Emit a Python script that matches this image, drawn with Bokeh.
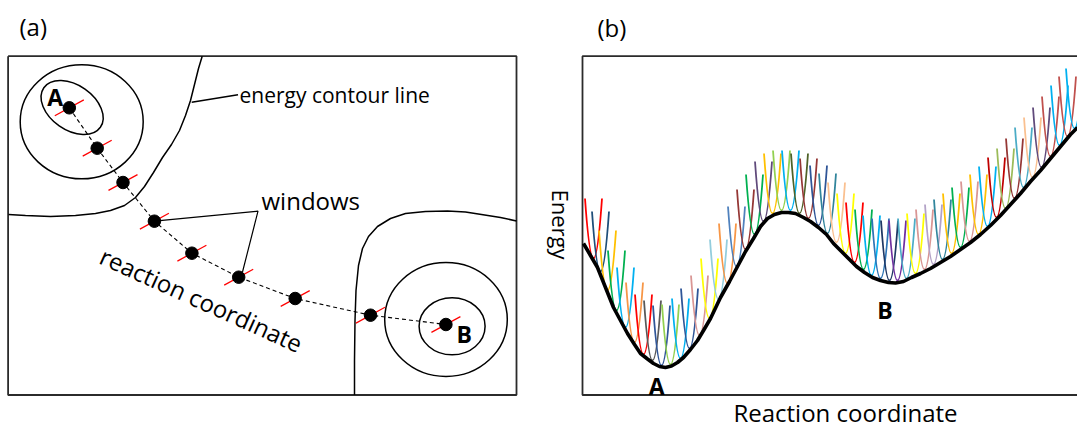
import numpy as np
from bokeh.plotting import figure
from bokeh.models import Range1d, Label
from bokeh.embed import file_html
from bokeh.resources import INLINE

# ---------------- panel (a): free-energy surface (page pixel units) ----------------
window_x = [68.8, 96.7, 122.5, 153.9, 191.4, 238.2, 294.7, 370.0, 445.4]
window_y = [107.3, 147.7, 182.0, 220.7, 252.7, 276.7, 298.0, 314.7, 324.0]

contour_left_x = [201.7, 198, 194, 190, 185, 179, 171, 162, 153, 144, 135, 124, 110, 95, 75, 50, 25, 8]
contour_left_y = [55.7, 68, 84, 100, 115, 130, 144, 157, 172, 186, 197, 205, 210, 213, 215, 216, 215, 214]

contour_right_x = [354, 354, 354.5, 355.5, 358, 362, 368, 377, 390, 405, 425, 447, 465, 481, 500, 516]
contour_right_y = [394.5, 360, 320, 290, 265, 248, 236, 226, 218, 213, 211, 210.5, 211.5, 214, 217, 220.5]

ellipse_cx = [81.2, 71.6, 445.5, 451.6]
ellipse_cy = [121.3, 107.0, 319.0, 325.8]
ellipse_w = [123, 69, 122.6, 66]
ellipse_h = [114, 45, 114, 57]
ellipse_angle = [0.0, -35.0, 0.0, 0.0]

# ---------------- panel (b): energy profile + umbrella windows ----------------
energy_x = [583, 590, 597, 605, 613, 620, 627, 634, 640, 647, 653, 659, 665, 671, 677, 683, 690, 697,
            703, 710, 720, 729, 737, 745, 753, 760, 767, 774, 781, 788, 795, 803, 810, 818, 826, 833,
            841, 849, 856, 864, 872, 880, 888, 895, 903, 911, 920, 930, 940, 950, 960, 970, 980, 990,
            1000, 1010, 1020, 1030, 1040, 1050, 1060, 1070, 1077]
energy_y = [243, 255, 267, 287, 307, 320, 333, 344, 353, 358.5, 363, 366, 367, 365.5, 362, 357, 349, 340,
            330, 318, 297, 281, 266, 251, 238, 226, 218, 214, 212, 212, 213, 217, 221, 227, 234, 243,
            251, 259, 266, 272, 277, 280, 282, 282.5, 281, 277, 273, 268, 262, 256, 249, 242, 234, 225,
            215, 204, 193, 181, 170, 158, 146, 134, 127]

umbrella_center = [593, 600, 607, 616, 625, 634, 643, 652, 661, 670, 680, 689, 699, 709, 718, 727, 736,
                   745, 754, 763, 772, 781, 790, 799, 808, 818, 827, 836, 845, 854, 863, 871, 880, 889,
                   897, 906, 915, 924, 933, 942, 951, 960, 969, 978, 987, 996, 1005, 1014, 1023, 1032,
                   1041, 1050, 1059, 1067, 1074]
umbrella_min = [258, 271, 290, 310, 327, 342, 354, 360, 365, 364, 358, 348, 335, 318, 299, 283, 266,
                249, 234, 221, 213, 210, 210, 213, 218, 225, 233, 242, 253, 262, 269, 275, 278, 280,
                280, 278, 273, 269, 264, 259, 253, 247, 241, 234, 226, 217, 208, 198, 187, 177,
                167, 156, 145, 136, 128]
umbrella_colors = ["#FF0000", "#1F4E79", "#FFC000", "#00B050", "#00B0F0", "#F79646", "#FF0000", "#595959",
                   "#2F5597", "#92D050", "#00B0F0", "#2F5597", "#D99694", "#FFFF00", "#93CDDD", "#F79646",
                   "#4F81BD", "#953735", "#00B050", "#604A7B", "#FFC000", "#92D050", "#00B0F0", "#4F6228",
                   "#953735", "#2F5597", "#31859C", "#FAC090", "#FFFF00", "#FF0000", "#00B050", "#00B0F0",
                   "#2E75B6", "#1F3864", "#7030A0", "#4BACC6", "#FFFF00", "#D99694", "#B3A2C7", "#31859C",
                   "#FFC000", "#00B050", "#D99694", "#FFC000", "#00B0F0", "#C00000", "#9BBB59", "#953735",
                   "#4BACC6", "#FAC090", "#604A7B", "#C0504D", "#00B0F0", "#C0504D", "#00B0F0"]

W, H = 1077, 429
p = figure(width=W, height=H, x_range=Range1d(0, W), y_range=Range1d(H, 0),
           output_backend="svg", toolbar_location=None, x_axis_type=None, y_axis_type=None,
           min_border=0, outline_line_color=None)
p.xgrid.visible = False
p.ygrid.visible = False
p.background_fill_color = "white"
p.border_fill_color = "white"

FRAME = "#2b2b2b"
# panel (a) frame
ax0, ax1, ay0, ay1 = 7.6, 516, 55.7, 394.5
p.line([ax0, ax1, ax1, ax0, ax0], [ay0, ay0, ay1, ay1, ay0], line_color=FRAME, line_width=1.8)
# panel (b) frame (left, top, bottom)
bx0 = 582
p.line([W, bx0, bx0, W], [ay0, ay0, ay1, ay1], line_color=FRAME, line_width=1.8)

# contours
p.line(contour_left_x, contour_left_y, line_color="black", line_width=1.5)
p.line(contour_right_x, contour_right_y, line_color="black", line_width=1.5)
p.ellipse(x=ellipse_cx, y=ellipse_cy, width=ellipse_w, height=ellipse_h,
          angle=ellipse_angle, angle_units="deg", fill_color=None, line_color="black", line_width=1.5)

# pointer lines
p.line([window_x[1] + 94.5, 237.5], [101.7, 94.3], line_color="black", line_width=1.5)
p.line([window_x[3], 257.5, 242.0], [window_y[3], 210.7, 271.5], line_color="black", line_width=1.2)

# reaction path
p.line(window_x, window_y, line_color="black", line_width=1.1, line_dash="4 3")
wx = np.array(window_x)
wy = np.array(window_y)
p.segment(x0=wx - 14.5, y0=wy + 7.9, x1=wx + 14.5, y1=wy - 7.9, line_color="#FF0000", line_width=1.2)
p.scatter(window_x, window_y, size=12.5, marker="circle", fill_color="black", line_color="black")

# umbrella parabolas (quadratic Bezier = parabola)
uc = np.array(umbrella_center, dtype=float)
um = np.array(umbrella_min, dtype=float)
hw, depth = 8.5, 60.0
p.quadratic(x0=uc - hw, y0=um - depth, x1=uc + hw, y1=um - depth, cx=uc, cy=um + depth,
            line_color=umbrella_colors, line_width=1.8)
p.line(energy_x, energy_y, line_color="black", line_width=3.6)

FONT = "Open Sans"
def lab(x, y, t, size, align="left", angle=0.0, bold=False):
    p.add_layout(Label(x=x, y=y, text=t, text_font=FONT, text_font_size=f"{size}px",
                       text_align=align, text_baseline="middle", angle=angle, angle_units="deg",
                       text_font_style="bold" if bold else "normal", text_color="black"))

lab(19, 26, "(a)", 24)
lab(597, 27, "(b)", 24)
lab(239, 94, "energy contour line", 21)
lab(261, 199.5, "windows", 24)
lab(201, 299, "reaction coordinate", 24, align="center", angle=-24.3)
lab(54.8, 96, "A", 23, align="center", bold=True)
lab(463.8, 333, "B", 23, align="center", bold=True)
lab(656.3, 385, "A", 23, align="center", bold=True)
lab(884.5, 309, "B", 23, align="center", bold=True)
lab(560, 224, "Energy", 22, align="center", angle=-90)
lab(845, 412, "Reaction coordinate", 24, align="center")

open("out.html", "w").write(file_html(p, INLINE))
